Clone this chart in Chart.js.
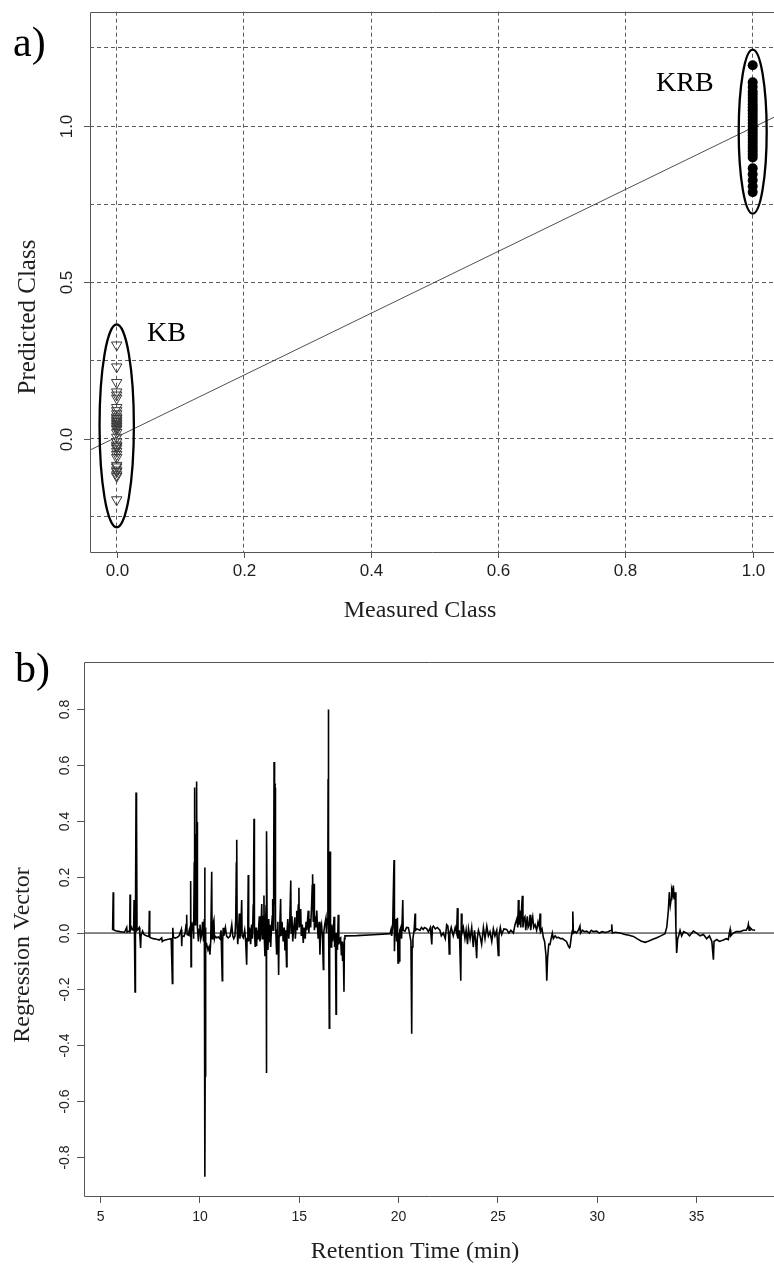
<!DOCTYPE html>
<html>
<head>
<meta charset="utf-8">
<title>PLS-DA class prediction and regression vector</title>
<script src="https://cdn.jsdelivr.net/npm/chart.js@4.4.1/dist/chart.umd.min.js"></script>
<style>
  html, body { margin: 0; padding: 0; background: #fff; }
  #wrap { position: relative; width: 774px; height: 1267px; overflow: hidden; background: #fff; }
  .holder { position: absolute; left: 0; width: 774px; }
  #holderA { top: 0; height: 620px; }
  #holderB { top: 630px; height: 637px; }
  canvas { display: block; }
</style>
</head>
<body>
<div id="wrap">
  <div class="holder" id="holderA"><canvas id="chartA" width="774" height="620" style="width:774px;height:620px"></canvas></div>
  <div class="holder" id="holderB"><canvas id="chartB" width="774" height="637" style="width:774px;height:637px"></canvas></div>
</div>
<script>
// ---------- Panel a: measured vs predicted class ----------
const classLevels = [0, 1];                     // KB = 0, KRB = 1
const kbPredicted = [0.30, 0.23, 0.18, 0.15, 0.14, 0.13, 0.10, 0.09, 0.08, 0.07, 0.065, 0.06,
  0.055, 0.05, 0.045, 0.04, 0.035, 0.03, 0.02, 0.005, -0.01, -0.02, -0.025, -0.03, -0.04,
  -0.05, -0.06, -0.085, -0.09, -0.10, -0.105, -0.115, -0.12, -0.195];
const krbPredicted = [1.195, 1.14, 1.125, 1.11, 1.10, 1.09, 1.08, 1.07, 1.06, 1.05, 1.04, 1.03, 1.02,
  1.01, 1.0, 0.99, 0.98, 0.97, 0.96, 0.95, 0.94, 0.93, 0.92, 0.91, 0.90, 0.865, 0.846,
  0.827, 0.808, 0.789];
const fitLineX = [-0.042, 1.042];
const fitLineY = [-0.036, 1.037];
const groupNames = ['KB', 'KRB'];
// group outlines: centre x, centre y, half-width, half-height (data units)
const kbEllipse = [0, 0.0415, 0.027, 0.3245];
const krbEllipse = [1.0, 0.9825, 0.022, 0.2625];
const classRange = [-0.042, 1.0335];
const predictedRange = [-0.362, 1.366];
const xLabelsA = [0, 0.2, 0.4, 0.6, 0.8, 1.0];
const yLabelsA = [0, 0.5, 1.0];

// ---------- Panel b: regression vector vs retention time ----------
const vectorPart1 = [[5.60, 0.010], [5.63, 0.146], [5.65, 0.012], [5.75, 0.008], [5.97, 0.005], [6.10, 0.004],
  [6.20, 0.003], [6.31, 0.02], [6.33, 0.003], [6.40, 0.006], [6.46, 0.004], [6.48, 0.138], [6.50, 0.010],
  [6.56, 0.02], [6.60, 0.012], [6.66, 0.01], [6.68, 0.118], [6.70, 0.005], [6.73, -0.21], [6.75, 0.03],
  [6.78, 0.502], [6.80, 0.05], [6.81, 0.42], [6.83, 0.01], [6.89, 0.015], [6.94, 0.02], [6.97, -0.005],
  [7.01, -0.053], [7.03, -0.01], [7.11, 0.007], [7.18, -0.005], [7.23, -0.007], [7.30, -0.01], [7.43, -0.012],
  [7.45, 0.080], [7.47, -0.015], [7.52, -0.017], [7.65, -0.02], [7.82, -0.022], [7.95, -0.025], [8.07, -0.017],
  [8.10, -0.03], [8.15, -0.027], [8.25, -0.025], [8.40, -0.022], [8.55, -0.02], [8.61, -0.18], [8.63, 0.019],
  [8.66, -0.015], [8.75, -0.018], [8.86, -0.015], [8.95, -0.01], [9.06, 0.013], [9.08, -0.047], [9.10, -0.01],
  [9.19, -0.012], [9.25, 0.0], [9.30, 0.03], [9.33, 0.065], [9.35, -0.005], [9.41, -0.007], [9.46, 0.01],
  [9.50, -0.01]];
const vectorPart2 = [[9.53, 0.186], [9.55, -0.12], [9.57, 0.0], [9.60, 0.02], [9.63, 0.007], [9.66, 0.04],
  [9.68, -0.02], [9.71, 0.25], [9.73, 0.52], [9.75, 0.03], [9.78, 0.1], [9.80, 0.35], [9.83, 0.541],
  [9.85, 0.1], [9.86, 0.397], [9.88, 0.02], [9.92, -0.03], [9.96, 0.013], [10.00, 0.03], [10.04, -0.02],
  [10.09, -0.004], [10.13, 0.04], [10.18, -0.03], [10.22, 0.05], [10.24, 0.234], [10.25, -0.87], [10.26, -0.51],
  [10.27, 0.02], [10.30, -0.05], [10.34, -0.041], [10.40, -0.06], [10.45, -0.05], [10.50, -0.077], [10.54, -0.03],
  [10.59, 0.219], [10.61, -0.02], [10.65, 0.03], [10.70, 0.046], [10.73, -0.02], [10.76, -0.011], [10.84, -0.017],
  [10.92, -0.014], [11.00, -0.02], [11.06, 0.01], [11.12, -0.17], [11.14, -0.03], [11.17, 0.019], [11.20, -0.01],
  [11.28, 0.02], [11.34, -0.011], [11.42, -0.017], [11.51, -0.012], [11.60, 0.03], [11.65, -0.01], [11.70, -0.02],
  [11.76, -0.011], [11.80, 0.05], [11.83, 0.25], [11.85, 0.333], [11.87, 0.02], [11.90, -0.04], [11.93, -0.005],
  [11.98, 0.07], [12.01, -0.02], [12.06, 0.02], [12.10, 0.118], [12.12, -0.01], [12.18, -0.017], [12.25, 0.01],
  [12.30, -0.03], [12.35, -0.113], [12.37, -0.02], [12.41, 0.05], [12.43, 0.207], [12.45, -0.03], [12.50, 0.02],
  [12.55, -0.04], [12.60, 0.03], [12.64, -0.02], [12.68, 0.1], [12.70, 0.2], [12.72, 0.408], [12.74, 0.01],
  [12.78, -0.05], [12.82, 0.02], [12.85, -0.047], [12.88, 0.01], [12.93, -0.02], [12.96, 0.03]];
const vectorPart3 = [[12.99, 0.06], [13.02, -0.03], [13.07, 0.02], [13.11, 0.104], [13.13, -0.02], [13.17, 0.04],
  [13.20, 0.06], [13.22, 0.134], [13.24, -0.02], [13.27, -0.083], [13.29, 0.01], [13.33, 0.1], [13.34, -0.5],
  [13.35, -0.23], [13.36, 0.364], [13.38, 0.02], [13.42, -0.06], [13.46, 0.05], [13.50, -0.03], [13.52, 0.03],
  [13.56, -0.05], [13.60, 0.02], [13.64, 0.06], [13.66, 0.122], [13.68, 0.01], [13.71, 0.2], [13.73, 0.611],
  [13.75, 0.1], [13.76, 0.515], [13.78, 0.52], [13.80, 0.05], [13.83, -0.02], [13.86, -0.077], [13.89, 0.01],
  [13.92, 0.04], [13.96, -0.15], [13.98, -0.01], [14.02, 0.03], [14.06, 0.122], [14.08, -0.01], [14.13, 0.04],
  [14.19, -0.03], [14.24, 0.02], [14.28, -0.059], [14.31, 0.01], [14.36, -0.12], [14.38, 0.0], [14.42, 0.05],
  [14.47, -0.02], [14.52, 0.04], [14.57, 0.188], [14.59, 0.0], [14.63, 0.06], [14.67, -0.03], [14.72, 0.02],
  [14.78, 0.056], [14.80, -0.02], [14.84, 0.03], [14.87, 0.08], [14.90, 0.01], [14.95, 0.1], [14.98, 0.162],
  [15.00, 0.02], [15.04, 0.05], [15.07, 0.086], [15.10, -0.01], [15.15, 0.03], [15.20, -0.035], [15.24, 0.02],
  [15.30, -0.02], [15.34, 0.04], [15.38, 0.01], [15.45, 0.080], [15.48, 0.0], [15.52, 0.05], [15.57, 0.02],
  [15.62, 0.1], [15.65, 0.17], [15.67, 0.210], [15.70, 0.04], [15.74, 0.176], [15.76, 0.01], [15.80, 0.06],
  [15.84, 0.02], [15.88, 0.08], [15.91, 0.03], [15.95, -0.02], [16.00, 0.04], [16.04, -0.077], [16.07, 0.01],
  [16.12, 0.03], [16.17, -0.02], [16.21, -0.13], [16.23, 0.0], [16.28, 0.03], [16.34, 0.053], [16.37, 0.0],
  [16.41, 0.05], [16.44, 0.29], [16.45, 0.55], [16.46, 0.798], [16.48, 0.1], [16.51, -0.34], [16.53, 0.1],
  [16.55, 0.291], [16.57, 0.0], [16.60, -0.05], [16.63, 0.03], [16.68, -0.03], [16.72, 0.02], [16.75, 0.058],
  [16.78, -0.05], [16.82, 0.0], [16.85, -0.29], [16.87, 0.0], [16.92, -0.06], [16.96, 0.065], [16.99, -0.04],
  [17.04, -0.02], [17.08, -0.017], [17.12, -0.08], [17.15, -0.03], [17.18, -0.10], [17.21, -0.04], [17.25, -0.21],
  [17.27, -0.02], [17.30, -0.01]];
const vectorPart4 = [[17.89, -0.009], [18.73, -0.006], [19.57, -0.002], [19.62, 0.013], [19.65, -0.01], [19.70, 0.02],
  [19.75, 0.20], [19.77, 0.261], [19.79, -0.065], [19.82, 0.02], [19.87, 0.05], [19.90, -0.03], [19.94, 0.055],
  [19.97, -0.107], [20.00, 0.0], [20.03, -0.1], [20.06, 0.01], [20.11, 0.02], [20.15, -0.02], [20.21, 0.118],
  [20.23, 0.01], [20.32, 0.007], [20.40, 0.02], [20.49, 0.019], [20.55, 0.0], [20.62, -0.03], [20.66, -0.36],
  [20.68, -0.05], [20.72, -0.02], [20.78, 0.01], [20.83, 0.070], [20.85, 0.01], [20.92, 0.015], [20.99, 0.013],
  [21.08, 0.010], [21.15, 0.02], [21.24, 0.013], [21.30, 0.02], [21.41, 0.016], [21.50, 0.005], [21.60, 0.02],
  [21.67, -0.041], [21.70, 0.02], [21.75, 0.025], [21.85, 0.015], [21.95, 0.02], [22.08, 0.01], [22.15, -0.01],
  [22.25, 0.0], [22.35, -0.02], [22.42, 0.03], [22.48, 0.025], [22.52, -0.01], [22.55, -0.075], [22.58, 0.0],
  [22.65, 0.02], [22.75, -0.01], [22.85, 0.02], [22.92, 0.0], [22.96, 0.089], [22.99, -0.02], [23.06, 0.01],
  [23.13, -0.17], [23.16, 0.070], [23.19, 0.0], [23.26, 0.02], [23.34, -0.02], [23.40, 0.01], [23.47, -0.04],
  [23.52, 0.015], [23.60, -0.02], [23.68, 0.02], [23.76, -0.05], [23.82, 0.01], [23.88, -0.03], [23.93, -0.09],
  [23.96, -0.02]];
const vectorPart5 = [[24.02, 0.01], [24.10, -0.01], [24.18, -0.04], [24.27, 0.02], [24.35, -0.02], [24.44, 0.025],
  [24.52, -0.01], [24.60, 0.005], [24.69, -0.03], [24.77, 0.015], [24.85, -0.01], [24.94, 0.01], [25.02, -0.08],
  [25.05, -0.01], [25.12, 0.02], [25.19, -0.005], [25.30, 0.015], [25.44, 0.013], [25.55, 0.0], [25.65, 0.01],
  [25.78, 0.0], [25.86, 0.03], [25.95, 0.05], [26.00, 0.02], [26.03, 0.118], [26.06, 0.03], [26.10, 0.08],
  [26.15, 0.02], [26.20, 0.1], [26.23, 0.133], [26.26, 0.02], [26.30, 0.05], [26.36, 0.058], [26.40, 0.01],
  [26.48, 0.06], [26.52, 0.02], [26.58, 0.03], [26.62, 0.065], [26.65, 0.01], [26.70, 0.04], [26.75, 0.058],
  [26.80, 0.02], [26.87, 0.03], [26.95, 0.01], [27.02, 0.04], [27.09, 0.02], [27.12, 0.070], [27.15, 0.005],
  [27.22, 0.015], [27.29, -0.017], [27.35, -0.03], [27.42, -0.08], [27.46, -0.17], [27.50, -0.09], [27.56, -0.04],
  [27.62, -0.041], [27.68, -0.02], [27.74, 0.0], [27.79, -0.02], [27.88, -0.01], [27.96, -0.017], [28.05, -0.015],
  [28.15, -0.02], [28.25, -0.02], [28.35, -0.025], [28.45, -0.03], [28.55, -0.047], [28.60, -0.053], [28.63, -0.05],
  [28.70, -0.01], [28.75, 0.01], [28.77, 0.077], [28.80, 0.0], [28.88, 0.005], [28.95, 0.0], [29.05, 0.01],
  [29.13, 0.025], [29.16, 0.0], [29.25, 0.01], [29.35, 0.005], [29.47, 0.007], [29.60, 0.0], [29.70, 0.01],
  [29.80, 0.005], [29.97, 0.007], [30.10, 0.0], [30.25, 0.005], [30.40, 0.002], [30.55, 0.005], [30.70, 0.01],
  [30.73, 0.031], [30.76, 0.0], [30.90, 0.003], [31.15, 0.0], [31.40, -0.005], [31.60, -0.008], [31.82, -0.012],
  [32.00, -0.02], [32.20, -0.028], [32.41, -0.033], [32.60, -0.028], [32.80, -0.022], [33.00, -0.017],
  [33.20, -0.01], [33.41, -0.002], [33.50, 0.02], [33.58, 0.08], [33.63, 0.146], [33.68, 0.10], [33.72, 0.12],
  [33.75, 0.155], [33.80, 0.14], [33.83, 0.17], [33.88, 0.12], [33.92, 0.146], [33.96, 0.02], [34.00, -0.071],
  [34.05, -0.02], [34.10, -0.01], [34.17, 0.01], [34.25, -0.01], [34.35, 0.005], [34.51, 0.0], [34.65, -0.01],
  [34.84, 0.007], [35.00, 0.0], [35.18, -0.01], [35.35, -0.005], [35.51, -0.02], [35.65, -0.01], [35.77, -0.03],
  [35.85, -0.095], [35.88, -0.03], [36.02, -0.023], [36.15, -0.03], [36.35, -0.025], [36.50, -0.02],
  [36.60, -0.023], [36.65, 0.0], [36.69, 0.013], [36.72, -0.01], [36.85, 0.0], [37.00, 0.005], [37.20, 0.005],
  [37.36, 0.01], [37.50, 0.01], [37.58, 0.02], [37.61, 0.031], [37.65, 0.01], [37.69, 0.02], [37.80, 0.012],
  [37.95, 0.010]];
const rtRange = [4.16, 38.90];
const vectorRange = [-0.939, 0.968];
const rtTickStep = 5;
const yLabelsB = [-0.8, -0.6, -0.4, -0.2, 0.0, 0.2, 0.4, 0.6, 0.8];

// ---------- shared look ----------
const SANS = '"Liberation Sans", Arial, Helvetica, sans-serif';
const SERIF = '"Liberation Serif", "Times New Roman", Times, serif';
const INK = '#1e1e1e';
const FRAME = '#555555';

function drawRotated(ctx, text, x, y, font, color) {
  ctx.save();
  ctx.translate(x, y);
  ctx.rotate(-Math.PI / 2);
  ctx.font = font;
  ctx.fillStyle = color;
  ctx.textAlign = 'center';
  ctx.textBaseline = 'middle';
  ctx.fillText(text, 0, 0);
  ctx.restore();
}

// plot frame runs past the right edge of the page, so only three sides show
function drawFrameAndYAxis(chart, labels, labelX, fontSize, tickLen) {
  const { ctx, chartArea: a, scales: { y } } = chart;
  const l = Math.round(a.left) + 0.5, t = Math.round(a.top) + 0.5, b = Math.round(a.bottom) + 0.5;
  ctx.save();
  ctx.strokeStyle = FRAME;
  ctx.lineWidth = 1;
  ctx.setLineDash([]);
  ctx.beginPath();
  ctx.moveTo(chart.width + 2, t);
  ctx.lineTo(l, t);
  ctx.lineTo(l, b);
  ctx.lineTo(chart.width + 2, b);
  ctx.stroke();
  labels.forEach(v => {
    const py = Math.round(y.getPixelForValue(v)) + 0.5;
    ctx.beginPath();
    ctx.moveTo(Math.round(a.left) - tickLen, py);
    ctx.lineTo(Math.round(a.left), py);
    ctx.stroke();
    drawRotated(ctx, v.toFixed(1), labelX, py, `${fontSize}px ${SANS}`, INK);
  });
  ctx.restore();
}

// ---------- panel a ----------
const panelAOverlay = {
  id: 'panelAOverlay',
  afterDatasetsDraw(chart) {
    const { ctx, scales: { x, y } } = chart;
    ctx.save();
    ctx.strokeStyle = '#000';
    ctx.lineWidth = 2.3;
    [kbEllipse, krbEllipse].forEach(e => {
      const cx = x.getPixelForValue(e[0]);
      const cy = y.getPixelForValue(e[1]);
      const rx = Math.abs(x.getPixelForValue(e[0] + e[2]) - cx);
      const ry = Math.abs(y.getPixelForValue(e[1] + e[3]) - cy);
      ctx.beginPath();
      ctx.ellipse(cx, cy, rx, ry, 0, 0, Math.PI * 2);
      ctx.stroke();
    });
    ctx.restore();
  },
  afterDraw(chart) {
    const { ctx, chartArea: a, scales: { x } } = chart;
    drawFrameAndYAxis(chart, yLabelsA, 67, 17, 6);
    ctx.save();
    // x ticks and labels
    ctx.strokeStyle = FRAME;
    ctx.lineWidth = 1;
    ctx.fillStyle = INK;
    ctx.font = `17px ${SANS}`;
    ctx.textAlign = 'center';
    ctx.textBaseline = 'top';
    const bottom = Math.round(a.bottom);
    xLabelsA.forEach(v => {
      const px = Math.round(x.getPixelForValue(v)) + 0.5;
      ctx.beginPath();
      ctx.moveTo(px, bottom);
      ctx.lineTo(px, bottom + 6);
      ctx.stroke();
      ctx.fillText(v.toFixed(1), px, bottom + 11);
    });
    ctx.fillStyle = '#000';
    ctx.font = `28px ${SERIF}`;
    ctx.textAlign = 'left';
    ctx.textBaseline = 'alphabetic';
    ctx.fillText(groupNames[0], 147, 341);
    ctx.fillText(groupNames[1], 656, 91);
    ctx.font = `42px ${SERIF}`;
    ctx.fillText('a)', 13, 56);
    ctx.font = `24px ${SERIF}`;
    ctx.textAlign = 'center';
    ctx.textBaseline = 'middle';
    ctx.fillStyle = INK;
    ctx.fillText('Measured Class', 420, 611);
    ctx.restore();
    drawRotated(ctx, 'Predicted Class', 28, 317, `25px ${SERIF}`, INK);
  }
};

new Chart(document.getElementById('chartA'), {
  type: 'scatter',
  data: {
    datasets: [
      {
        label: groupNames[0],
        data: kbPredicted.map(v => ({ x: classLevels[0], y: v })),
        pointStyle: 'triangle',
        rotation: 180,
        pointRadius: 6,
        borderWidth: 1,
        borderColor: '#3a3a3a',
        backgroundColor: 'rgba(0,0,0,0)'
      },
      {
        label: groupNames[1],
        data: krbPredicted.map(v => ({ x: classLevels[1], y: v })),
        pointStyle: 'circle',
        pointRadius: 5,
        borderWidth: 0,
        backgroundColor: '#000'
      },
      {
        label: 'fit',
        data: fitLineX.map((xv, i) => ({ x: xv, y: fitLineY[i] })),
        showLine: true,
        pointRadius: 0,
        borderColor: '#3c3c3c',
        borderWidth: 0.9
      }
    ]
  },
  options: {
    responsive: false,
    maintainAspectRatio: false,
    animation: false,
    devicePixelRatio: 1,
    layout: { autoPadding: false, padding: { top: 11.7, right: 0, left: 0, bottom: 0 } },
    plugins: { legend: { display: false }, tooltip: { enabled: false } },
    scales: {
      x: {
        type: 'linear',
        min: classRange[0],
        max: classRange[1],
        afterFit(s) { s.height = 68; s.paddingLeft = 0; s.paddingRight = 0; },
        ticks: { stepSize: 0.2, includeBounds: false, display: false },
        grid: { color: '#5c5c5c', lineWidth: 1, drawTicks: false },
        border: { display: false, dash: [4, 3] }
      },
      y: {
        type: 'linear',
        min: predictedRange[0],
        max: predictedRange[1],
        afterFit(s) { s.width = 90; s.paddingTop = 0; s.paddingBottom = 0; },
        ticks: { stepSize: 0.25, includeBounds: false, display: false },
        grid: { color: '#5c5c5c', lineWidth: 1, drawTicks: false },
        border: { display: false, dash: [4, 3] }
      }
    }
  },
  plugins: [panelAOverlay]
});

// ---------- panel b ----------
const regressionSeries = [...vectorPart1, ...vectorPart2, ...vectorPart3, ...vectorPart4, ...vectorPart5];

const panelBOverlay = {
  id: 'panelBOverlay',
  afterDraw(chart) {
    const { ctx } = chart;
    drawFrameAndYAxis(chart, yLabelsB, 65, 14, 7);
    ctx.save();
    ctx.fillStyle = '#000';
    ctx.font = `42px ${SERIF}`;
    ctx.textAlign = 'left';
    ctx.textBaseline = 'alphabetic';
    ctx.fillText('b)', 15, 52);
    ctx.font = `24px ${SERIF}`;
    ctx.textAlign = 'center';
    ctx.textBaseline = 'middle';
    ctx.fillStyle = INK;
    ctx.fillText('Retention Time (min)', 415, 622);
    ctx.restore();
    drawRotated(ctx, 'Regression Vector', 23, 325, `24px ${SERIF}`, INK);
  }
};

new Chart(document.getElementById('chartB'), {
  type: 'scatter',
  data: {
    datasets: [
      {
        label: 'Regression vector',
        data: regressionSeries.map(p => ({ x: p[0], y: p[1] })),
        showLine: true,
        pointRadius: 0,
        borderColor: '#000',
        borderWidth: 1.6,
        tension: 0
      },
      {
        label: 'zero',
        data: rtRange.map(t => ({ x: t, y: 0 })),
        showLine: true,
        pointRadius: 0,
        borderColor: '#111',
        borderWidth: 1
      }
    ]
  },
  options: {
    responsive: false,
    maintainAspectRatio: false,
    animation: false,
    devicePixelRatio: 1,
    layout: { autoPadding: false, padding: { top: 32, right: 0, left: 0, bottom: 0 } },
    plugins: { legend: { display: false }, tooltip: { enabled: false } },
    scales: {
      x: {
        type: 'linear',
        min: rtRange[0],
        max: rtRange[1],
        afterFit(s) { s.height = 71; },
        ticks: {
          stepSize: rtTickStep, includeBounds: false, padding: 6, autoSkip: false, maxRotation: 0,
          font: { family: SANS, size: 14 }, color: INK
        },
        grid: { drawOnChartArea: false, drawTicks: true, tickLength: 7, tickColor: FRAME, tickWidth: 1 },
        border: { display: false }
      },
      y: {
        type: 'linear',
        min: vectorRange[0],
        max: vectorRange[1],
        afterFit(s) { s.width = 84; },
        ticks: { display: false },
        grid: { display: false },
        border: { display: false }
      }
    }
  },
  plugins: [panelBOverlay]
});
</script>
</body>
</html>
